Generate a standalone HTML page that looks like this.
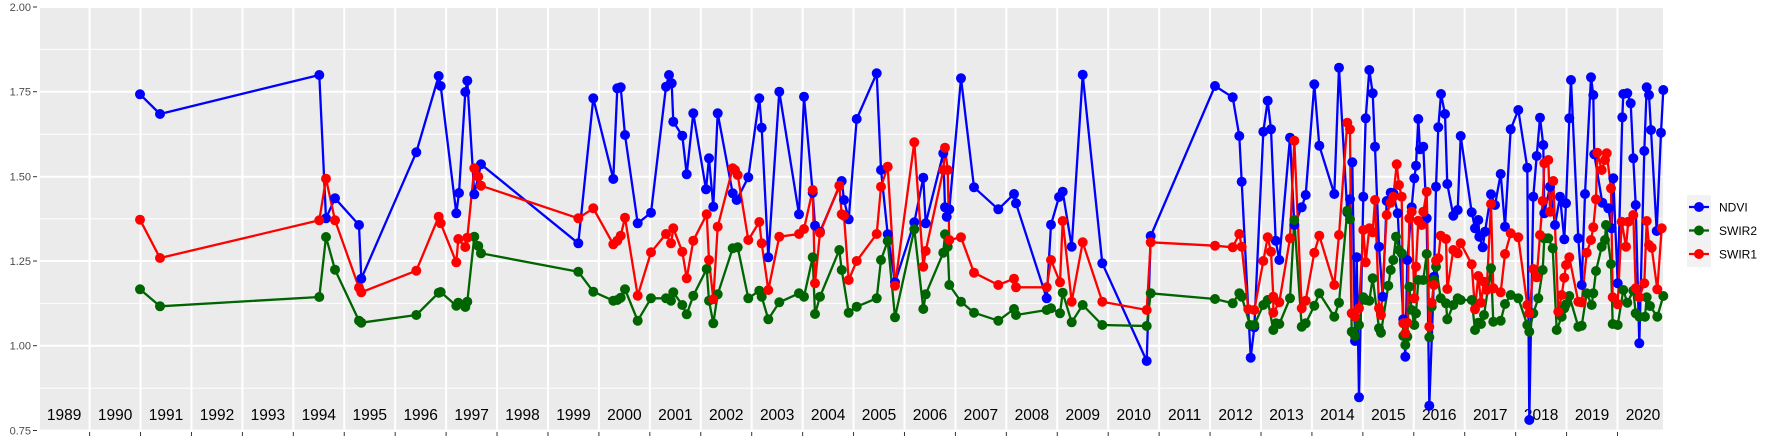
<!DOCTYPE html>
<html><head><meta charset="utf-8"><style>
html,body{margin:0;padding:0;background:#fff;}
svg{display:block;}
text{font-family:"Liberation Sans",Arial,sans-serif;}
</style></head><body>
<svg id="s" width="1773" height="442" viewBox="0 0 1773 442" xmlns="http://www.w3.org/2000/svg">
<rect x="40" y="6" width="1623" height="425" fill="#ebebeb"/>
<g id="grid"></g>
<g id="lines"></g>
<g id="pts"></g>
<g id="axes" fill="#4d4d4d" font-size="11" text-anchor="end">
<text x="31" y="11">2.00</text>
<text x="31" y="95.5">1.75</text>
<text x="31" y="180.5">1.50</text>
<text x="31" y="265">1.25</text>
<text x="31" y="349.5">1.00</text>
<text x="31" y="434.5">0.75</text>
</g>
<g id="legend">
<rect x="1687" y="195" width="24" height="72" fill="#f2f2f2"/>
<line x1="1689" y1="207" x2="1709" y2="207" stroke="#0000ff" stroke-width="2.3"/><circle cx="1699" cy="207" r="5" fill="#0000ff"/>
<line x1="1689" y1="230.5" x2="1709" y2="230.5" stroke="#006400" stroke-width="2.3"/><circle cx="1699" cy="230.5" r="5" fill="#006400"/>
<line x1="1689" y1="254" x2="1709" y2="254" stroke="#ff0000" stroke-width="2.3"/><circle cx="1699" cy="254" r="5" fill="#ff0000"/>
<text x="1719" y="211.5" font-size="12" fill="#000">NDVI</text>
<text x="1719" y="235" font-size="12" fill="#000">SWIR2</text>
<text x="1719" y="258.5" font-size="12" fill="#000">SWIR1</text>
</g>
</svg>
<script>
var NS="http://www.w3.org/2000/svg";
function el(p,t,a){var e=document.createElementNS(NS,t);for(var k in a)e.setAttribute(k,a[k]);p.appendChild(e);return e;}
var g=document.getElementById('grid');
var yv=[7,91.7,176.7,261,345.7,430.5];
for(var i=0;i<yv.length-1;i++){var m=(yv[i]+yv[i+1])/2;el(g,'line',{x1:40,x2:1663,y1:m,y2:m,stroke:'#fff','stroke-width':1});}
for(var i=0;i<yv.length;i++){el(g,'line',{x1:40,x2:1663,y1:yv[i],y2:yv[i],stroke:'#fff','stroke-width':2});}
var ax=document.getElementById('axes');
for(var i=0;i<yv.length;i++){el(ax,'line',{x1:33,x2:37,y1:yv[i],y2:yv[i],stroke:'#333','stroke-width':1});}
for(var y=1989;y<=2021;y++){
 var x=89.6+(y-1990)*50.93;
 if(x>40&&x<1663){el(g,'line',{x1:x,x2:x,y1:6,y2:431,stroke:'#fff','stroke-width':2});el(ax,'line',{x1:x,x2:x,y1:432,y2:436,stroke:'#333','stroke-width':1});}
 if(y<=2020){var c=x+25.5;var t=el(g,'text',{x:c,y:420,'font-size':'15.5','text-anchor':'middle',fill:'#000'});t.textContent=y;}
}
function tr(ox,oy,arr){return arr.map(function(p){return [ox+p[0]/3,oy+p[1]/3];});}
var B=[].concat(
tr(120,50,[[60,133],[120,192],[598,75],[618,505],[645,445],[717,525],[724,686],[889,307],[956,78],[962,108],[1009,490],[1017,429],[1036,126],[1042,92],[1063,433],[1083,343]]),
tr(560,50,[[55,580],[100,145],[160,387],[172,115],[182,112],[195,255],[233,520],[273,488],[318,110],[327,75],[335,100],[340,215],[367,257],[380,373],[400,190],[438,418],[447,325],[460,470],[473,190],[518,430],[530,450],[565,382],[598,145],[605,233],[625,622],[658,125],[717,493],[732,140],[758,428],[765,527],[780,545],[845,393],[852,450],[866,508],[890,207],[950,70],[963,360],[983,553],[1005,697],[1063,517],[1090,383],[1097,520],[1150,310],[1155,472],[1160,500],[1168,478],[1203,85]]),
tr(960,50,[[42,412],[115,478],[162,432],[168,460],[260,745],[273,524],[297,441],[308,425],[335,590],[368,74],[427,640],[560,933],[572,558]]),
tr(1160,50,[[165,108],[218,142],[238,258],[245,395],[272,923],[283,832],[310,245],[323,152],[333,238],[347,572],[358,630],[390,263],[403,525],[425,472],[437,435],[463,103],[478,287],[523,432],[537,53],[562,487],[570,448],[577,337],[585,873],[590,622],[597,1042],[610,440],[617,205],[628,60],[638,130],[645,290],[657,590],[668,740],[680,453],[692,428],[700,430],[713,490],[730,808],[736,920],[742,630],[755,472],[763,385],[768,347],[775,207],[780,298],[790,290],[800,505],[808,1067],[822,680],[828,410],[835,232],[843,132],[855,192],[862,402],[880,497],[893,480],[902,258],[935,487],[945,535],[955,510],[958,560],[968,592],[975,545],[993,433],[1005,465],[1022,372],[1035,530],[1052,238],[1075,180],[1102,353],[1108,1110],[1120,440],[1130,318],[1140,203],[1150,285],[1153,490],[1170,410],[1185,525],[1200,440],[1213,568],[1218,460],[1228,205],[1233,90],[1255,565]]),
tr(1540,60,[[125,675],[135,402],[153,52],[160,105],[163,283],[187,428],[205,445],[215,505],[220,355],[233,670],[247,172],[250,102],[262,100],[272,130],[280,295],[287,435],[298,850],[313,273],[320,82],[327,105],[333,210],[350,513],[363,218],[370,90]])
);
var R=[].concat(
tr(120,50,[[60,509],[120,624],[598,511],[618,386],[645,511],[717,713],[724,727],[889,662],[956,500],[962,520],[1009,637],[1015,567],[1036,591],[1042,563],[1063,355],[1075,380],[1083,407]]),
tr(560,50,[[55,505],[100,475],[160,583],[172,572],[182,557],[195,503],[233,737],[273,607],[318,552],[333,580],[340,535],[367,605],[380,685],[400,572],[440,493],[447,630],[460,748],[473,530],[518,355],[525,360],[533,375],[565,570],[598,516],[605,580],[625,720],[658,560],[717,552],[732,537],[758,420],[765,700],[780,548],[838,407],[845,493],[852,497],[866,690],[890,633],[950,552],[963,410],[983,350],[1005,707],[1063,277],[1090,650],[1097,603],[1150,360],[1155,293],[1163,360],[1168,570],[1203,562]]),
tr(960,50,[[42,668],[115,705],[162,686],[168,712],[260,712],[273,630],[300,697],[308,513],[335,755],[368,577],[427,755],[560,780],[572,577]]),
tr(1160,50,[[165,587],[218,592],[238,552],[245,590],[265,778],[283,780],[310,633],[323,562],[333,605],[340,740],[340,788],[358,757],[390,565],[403,272],[425,775],[437,752],[463,608],[478,557],[523,705],[537,555],[562,218],[570,238],[575,790],[585,800],[597,775],[610,540],[617,637],[628,535],[638,547],[645,450],[657,775],[663,795],[680,495],[692,458],[700,440],[710,343],[717,405],[725,440],[730,820],[736,850],[742,818],[748,505],[755,485],[763,745],[768,650],[775,512],[785,525],[790,485],[800,425],[808,830],[815,758],[822,705],[828,632],[835,625],[842,557],[858,567],[862,717],[880,600],[893,610],[902,580],[935,643],[945,778],[955,678],[963,758],[972,695],[980,720],[993,462],[1000,715],[1022,727],[1035,612],[1052,550],[1075,562],[1102,765],[1108,790],[1120,657],[1130,682],[1140,555],[1148,453],[1153,340],[1165,330],[1170,485],[1180,393],[1195,785],[1205,735],[1213,683],[1218,645],[1228,622],[1255,755]]),
tr(1540,60,[[125,727],[140,578],[153,540],[160,502],[168,418],[172,278],[185,330],[195,300],[200,280],[213,385],[218,712],[233,733],[245,485],[258,560],[265,485],[280,465],[287,685],[298,712],[313,670],[320,483],[327,555],[335,563],[352,688],[365,505]])
);
var G=[].concat(
tr(120,50,[[60,718],[120,769],[598,741],[618,561],[645,659],[717,812],[724,818],[889,795],[956,728],[962,726],[1009,767],[1015,758],[1036,771],[1042,755],[1063,560],[1075,588],[1083,610]]),
tr(560,50,[[55,665],[100,725],[160,752],[172,750],[182,743],[195,718],[233,812],[273,745],[318,745],[333,752],[340,727],[367,765],[380,793],[400,737],[440,657],[447,752],[460,820],[473,733],[518,595],[533,592],[565,745],[598,722],[605,740],[625,808],[658,757],[717,730],[732,740],[758,622],[765,792],[780,740],[838,600],[845,660],[866,788],[890,770],[950,745],[963,630],[983,573],[1005,802],[1063,538],[1090,777],[1097,733],[1150,608],[1155,553],[1163,590],[1168,705],[1203,755]]),
tr(960,50,[[42,788],[115,812],[162,777],[168,795],[260,780],[273,775],[300,790],[308,728],[335,817],[368,765],[427,825],[560,828],[572,730]]),
tr(1160,50,[[165,747],[218,760],[238,730],[245,740],[270,825],[283,825],[310,765],[323,750],[340,840],[348,820],[358,822],[390,745],[403,510],[425,830],[437,820],[463,767],[478,730],[523,800],[537,758],[562,482],[570,508],[575,845],[585,858],[597,825],[610,742],[617,750],[628,752],[638,685],[657,835],[663,848],[685,707],[692,660],[700,630],[708,560],[717,600],[725,610],[730,858],[736,885],[742,860],[748,710],[755,780],[763,825],[768,790],[775,690],[790,690],[800,612],[808,862],[815,770],[822,690],[828,650],[842,745],[858,760],[862,808],[880,765],[893,745],[902,750],[935,750],[945,840],[955,818],[963,822],[972,795],[993,655],[1000,815],[1022,812],[1035,762],[1052,735],[1075,745],[1102,825],[1108,845],[1120,790],[1135,745],[1148,660],[1153,565],[1165,565],[1178,595],[1190,840],[1205,800],[1213,775],[1218,763],[1228,738],[1255,830]]),
tr(1540,60,[[125,797],[140,700],[155,735],[160,700],[168,633],[185,560],[195,540],[198,495],[213,612],[218,792],[233,795],[250,690],[262,728],[280,692],[287,760],[298,770],[315,770],[320,712],[330,738],[352,770],[370,708]])
);
var L=document.getElementById('lines'),P=document.getElementById('pts');
var S=[[B,'#0000ff'],[G,'#006400'],[R,'#ff0000']];
S.forEach(function(s){el(L,'polyline',{points:s[0].map(function(p){return p[0].toFixed(1)+','+p[1].toFixed(1);}).join(' '),fill:'none',stroke:s[1],'stroke-width':2.3,'stroke-linejoin':'round'});});
S.forEach(function(s){s[0].forEach(function(p){el(P,'circle',{cx:p[0].toFixed(1),cy:p[1].toFixed(1),r:5,fill:s[1]});});});
</script>
</body></html>
